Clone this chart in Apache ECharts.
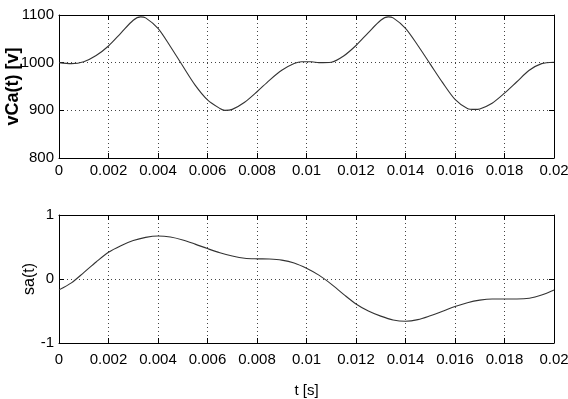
<!DOCTYPE html>
<html>
<head>
<meta charset="utf-8">
<script src="https://cdn.jsdelivr.net/npm/echarts@6/dist/echarts.min.js"></script>
<style>
html,body{margin:0;padding:0;background:#fff;}
#c{width:568px;height:399px;}
</style>
</head>
<body>
<div id="c"></div>
<script>
// time samples [s]
var tTop = [0,0.0005,0.001,0.0015,0.002,0.0025,0.003,0.0033,0.0035,0.004,0.0045,0.005,0.0055,0.006,0.0065,0.0067,0.007,0.0075,0.008,0.0085,0.009,0.0095,0.0098,0.0102,0.0105,0.011,0.0115,0.012,0.0125,0.013,0.0133,0.0135,0.014,0.0145,0.015,0.0155,0.016,0.0165,0.0168,0.017,0.0175,0.018,0.0185,0.019,0.0195,0.02];
var vCa = [1000,998,1002,1015,1035,1062,1089,1096,1094,1072,1034,993,953,922,904,900,902,917,939,963,984,998,1002,1002,1000,1001,1014,1036,1063,1089,1096,1094,1072,1036,997,958,923,904,902,903,915,936,960,984,998,1001];

var tBot = [0,0.0005,0.001,0.0015,0.002,0.0025,0.003,0.0035,0.004,0.0045,0.005,0.0055,0.006,0.0065,0.007,0.0075,0.008,0.0085,0.009,0.0095,0.01,0.0105,0.011,0.0115,0.012,0.0125,0.013,0.0135,0.014,0.0145,0.015,0.0155,0.016,0.0165,0.017,0.0175,0.018,0.0185,0.019,0.0195,0.02];
var sa = [-0.17,-0.06,0.1,0.265,0.417,0.52,0.6,0.65,0.672,0.656,0.61,0.545,0.475,0.41,0.36,0.325,0.315,0.312,0.295,0.25,0.167,0.06,-0.08,-0.24,-0.39,-0.5,-0.58,-0.64,-0.66,-0.635,-0.575,-0.505,-0.43,-0.37,-0.33,-0.312,-0.312,-0.312,-0.3,-0.25,-0.17];

var xTicks = [0,0.002,0.004,0.006,0.008,0.01,0.012,0.014,0.016,0.018,0.02];
var yTopTicks = [800,900,1000,1100];
var yBotTicks = [-1,0,1];

var tickFont = "'Liberation Sans',Arial,sans-serif";
function pairs(x, y){ var o=[]; for(var i=0;i<x.length;i++) o.push([x[i],y[i]]); return o; }
function fmt(v){ return String(+(+v).toFixed(6)); }

var black = '#000';
var dots = {color:'#444', width:1, type:[1,3]};
function xAx(g, pos, showLabel, margin, name){
  return {
    type:'value', gridIndex:g, position:pos,
    min:xTicks[0], max:xTicks[xTicks.length-1], interval:xTicks[1]-xTicks[0],
    axisLine:{show:true, onZero:false, lineStyle:{color:black,width:1}},
    axisTick:{show:true, inside:true, length:5, lineStyle:{color:black}},
    axisLabel:{show:showLabel, color:'#000', fontSize:15, fontFamily:tickFont, margin:margin||5, formatter:fmt, hideOverlap:false},
    splitLine:{show:pos==='bottom', lineStyle:dots},
    name:name||'', nameLocation:'middle', nameGap:40, nameMoveOverlap:false,
    nameTextStyle:{color:'#000', fontSize:15, fontFamily:tickFont}
  };
}
function yAx(g, pos, ticks, showLabel, name, nameGap, bold){
  return {
    type:'value', gridIndex:g, position:pos,
    min:ticks[0], max:ticks[ticks.length-1], interval:ticks[1]-ticks[0],
    axisLine:{show:true, onZero:false, lineStyle:{color:black,width:1}},
    axisTick:{show:true, inside:true, length:5, lineStyle:{color:black}},
    axisLabel:{show:showLabel, color:'#000', fontSize:15, fontFamily:tickFont, margin:5, formatter:fmt},
    splitLine:{show:pos==='left', lineStyle:dots},
    name:name||'', nameLocation:'middle', nameGap:nameGap||0, nameMoveOverlap:false,
    nameTextStyle:{color:'#000', fontSize:bold?18:16, fontWeight:bold?'bold':'normal', fontFamily:"'Liberation Sans',Arial,sans-serif"}
  };
}

var chart = echarts.init(document.getElementById('c'), null, {renderer:'canvas'});
chart.setOption({
  backgroundColor:'#fff',
  animation:false,
  grid:[
    {left:59, right:14, top:15, height:143, containLabel:false, outerBoundsMode:'none'},
    {left:59, right:14, top:215, height:128, containLabel:false, outerBoundsMode:'none'}
  ],
  xAxis:[
    xAx(0,'bottom',true,5),
    xAx(0,'top',false),
    xAx(1,'bottom',true,9,'t [s]'),
    xAx(1,'top',false)
  ],
  yAxis:[
    yAx(0,'left',yTopTicks,true,'vCa(t) [v]',37,true),
    yAx(0,'right',yTopTicks,false),
    yAx(1,'left',yBotTicks,true,'sa(t)',21,false),
    yAx(1,'right',yBotTicks,false)
  ],
  series:[
    {type:'line', xAxisIndex:0, yAxisIndex:0, data:pairs(tTop,vCa), smooth:0.3, showSymbol:false, lineStyle:{color:'#333', width:1.1}},
    {type:'line', xAxisIndex:2, yAxisIndex:2, data:pairs(tBot,sa), smooth:0.3, showSymbol:false, lineStyle:{color:'#333', width:1.1}}
  ]
});
</script>
</body>
</html>
